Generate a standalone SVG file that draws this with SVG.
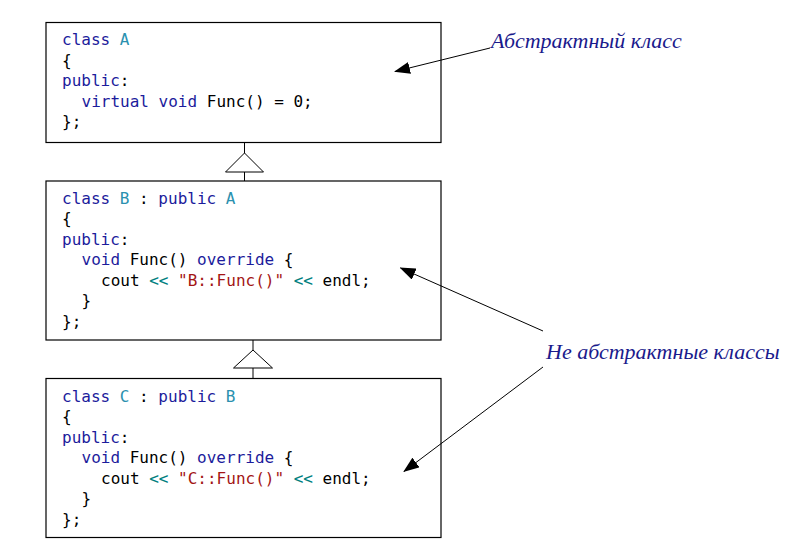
<svg xmlns="http://www.w3.org/2000/svg" width="805" height="559" viewBox="0 0 805 559">
<defs>
<style>
.box{fill:#fff;stroke:#000;stroke-width:1.2}
.code{font-family:"DejaVu Sans Mono","Liberation Mono",monospace;font-size:16px;fill:#000;white-space:pre}
.kw{fill:#1c1c9c}
.ty{fill:#2b91af}
.op{fill:#008080}
.st{fill:#a31515}
.lbl{font-family:"Liberation Serif","DejaVu Serif",serif;font-style:italic;font-size:22px;fill:#1a1a8c}
.ln{stroke:#000;stroke-width:1;fill:none}
.tri{fill:#fff;stroke:#000;stroke-width:1}
</style>
<marker id="ah" viewBox="0 0 16 12" refX="15" refY="6" markerWidth="16" markerHeight="12" markerUnits="userSpaceOnUse" orient="auto">
<path d="M0,0 L16,6 L0,12 z" fill="#000"/>
</marker>
</defs>
<rect width="805" height="559" fill="#fff"/>

<g id="classA">
<rect class="box" x="46" y="22.5" width="395" height="120"/>
<text class="code" x="62" y="45"><tspan class="kw">class</tspan> <tspan class="ty">A</tspan></text>
<text class="code" x="62" y="65.5">{</text>
<text class="code" x="62" y="86"><tspan class="kw">public</tspan>:</text>
<text class="code" x="81.5" y="106.5"><tspan class="kw">virtual</tspan> <tspan class="kw">void</tspan> Func() = 0;</text>
<text class="code" x="62" y="127">};</text>
</g>

<g id="classB">
<rect class="box" x="46" y="181" width="395" height="159"/>
<text class="code" x="62" y="203.5"><tspan class="kw">class</tspan> <tspan class="ty">B</tspan> : <tspan class="kw">public</tspan> <tspan class="ty">A</tspan></text>
<text class="code" x="62" y="224">{</text>
<text class="code" x="62" y="244.5"><tspan class="kw">public</tspan>:</text>
<text class="code" x="81.5" y="265"><tspan class="kw">void</tspan> Func() <tspan class="kw">override</tspan> {</text>
<text class="code" x="101" y="285.5">cout <tspan class="op">&lt;&lt;</tspan> <tspan class="st">"B::Func()"</tspan> <tspan class="op">&lt;&lt;</tspan> endl;</text>
<text class="code" x="81.5" y="306">}</text>
<text class="code" x="62" y="326.5">};</text>
</g>

<g id="classC">
<rect class="box" x="46" y="378.5" width="395" height="159"/>
<text class="code" x="62" y="401.5"><tspan class="kw">class</tspan> <tspan class="ty">C</tspan> : <tspan class="kw">public</tspan> <tspan class="ty">B</tspan></text>
<text class="code" x="62" y="422">{</text>
<text class="code" x="62" y="442.5"><tspan class="kw">public</tspan>:</text>
<text class="code" x="81.5" y="463"><tspan class="kw">void</tspan> Func() <tspan class="kw">override</tspan> {</text>
<text class="code" x="101" y="483.5">cout <tspan class="op">&lt;&lt;</tspan> <tspan class="st">"C::Func()"</tspan> <tspan class="op">&lt;&lt;</tspan> endl;</text>
<text class="code" x="81.5" y="504">}</text>
<text class="code" x="62" y="524.5">};</text>
</g>

<g id="label-abstract">
<text class="lbl" x="491" y="48">Абстрактный класс</text>
</g>
<g id="label-nonabstract">
<text class="lbl" x="546" y="359">Не абстрактные классы</text>
</g>

<g id="connectors">
<line class="ln" x1="244.5" y1="142.5" x2="244.5" y2="153"/>
<polygon class="tri" points="244.5,153 225.5,172 263.5,172"/>
<line class="ln" x1="244.5" y1="172" x2="244.5" y2="181"/>
<line class="ln" x1="253" y1="340" x2="253" y2="350"/>
<polygon class="tri" points="253,350 233.5,368 272.5,368"/>
<line class="ln" x1="253" y1="368" x2="253" y2="378.5"/>
<line class="ln" x1="490" y1="48" x2="395" y2="71.5" marker-end="url(#ah)"/>
<line class="ln" x1="543" y1="331" x2="400.5" y2="268" marker-end="url(#ah)"/>
<line class="ln" x1="543" y1="367" x2="404" y2="471.5" marker-end="url(#ah)"/>
</g>
</svg>
